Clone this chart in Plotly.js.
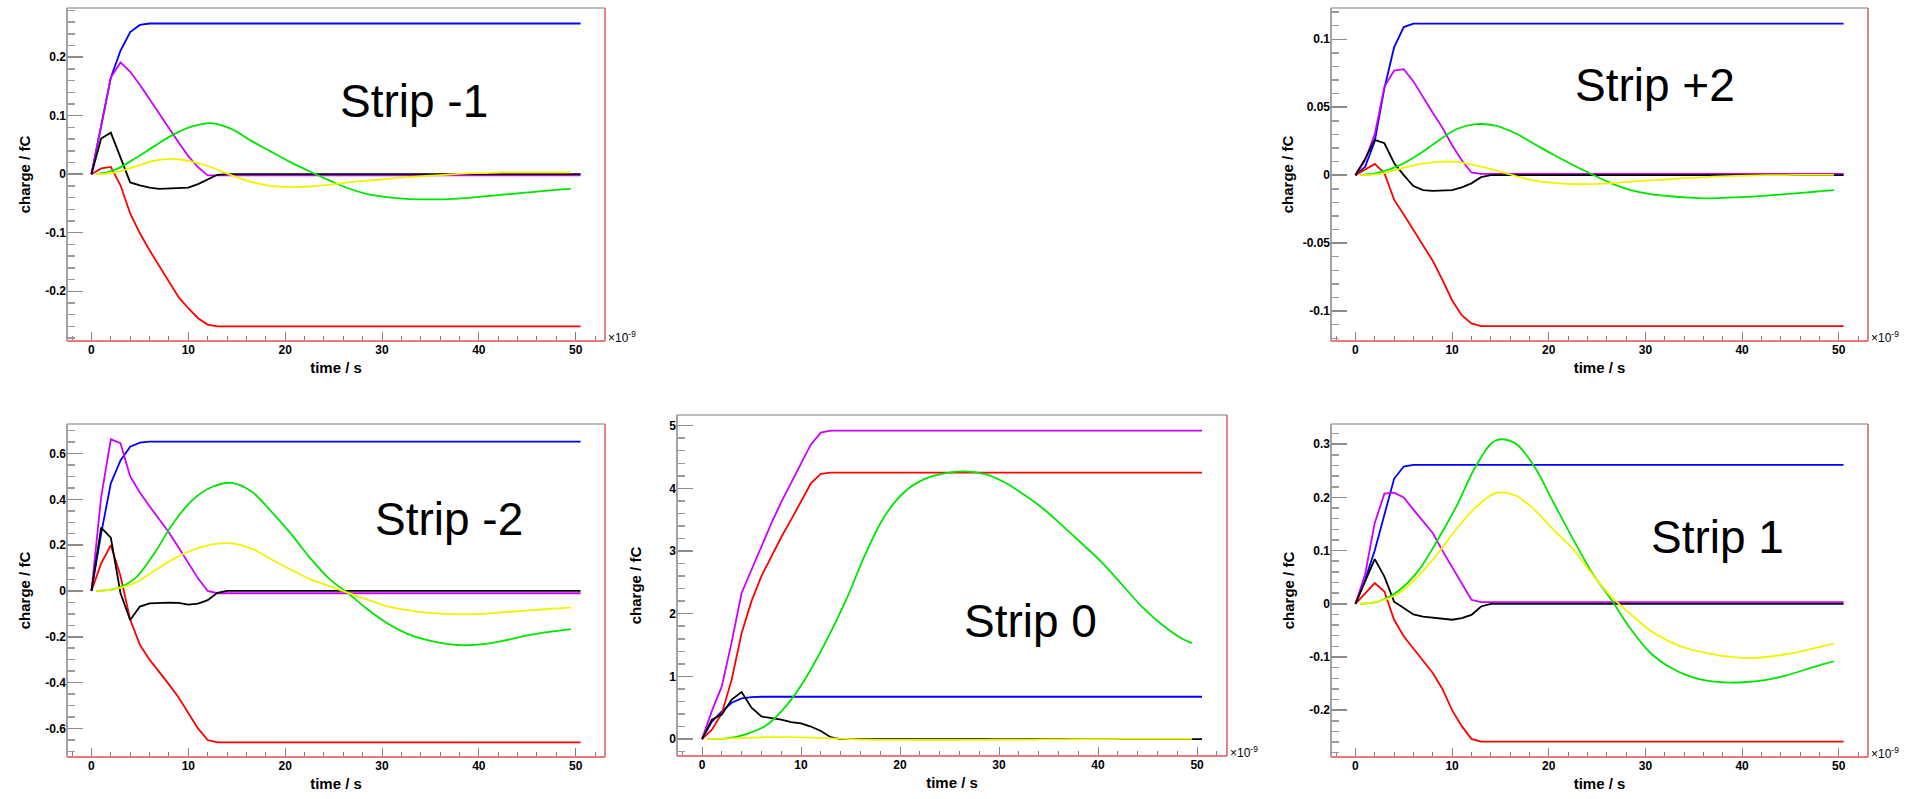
<!DOCTYPE html>
<html>
<head>
<meta charset="utf-8">
<script src="https://cdn.plot.ly/plotly-3.0.1.min.js"></script>
<style>
  html, body { margin: 0; padding: 0; background: #ffffff; }
  #chart { width: 1905px; height: 799px; }
</style>
</head>
<body>
<div id="chart"></div>
<script>
// ---------- time grids (ns) ----------
// fast components: sampled every ns, flat after the drift ends
const tFast = [0, 1, 2, 3, 4, 5, 6, 7, 8, 9, 10, 11, 12, 13, 14, 50.5];
// slow (shaped) components
const tSlow = [0.5, 2.5, 4.5, 6.5, 8.5, 10.5, 12.5, 14.5, 16.5, 18.5, 20.5, 22.5, 24.5,
               26.5, 28.5, 30.5, 32.5, 34.5, 36.5, 38.5, 40.5, 42.5, 44.5, 46.5, 48.5, 49.5];

// ---------- Strip -1 ----------
const stripM1Blue    = [0, 0.080, 0.165, 0.211, 0.243, 0.255, 0.2575, 0.2575, 0.2575, 0.2575, 0.2575, 0.2575, 0.2575, 0.2575, 0.2575, 0.2575];
const stripM1Magenta = [0, 0.082, 0.165, 0.191, 0.175, 0.153, 0.128, 0.103, 0.078, 0.054, 0.031, 0.012, -0.002, -0.002, -0.002, -0.002];
const stripM1Red     = [0, 0.010, 0.0125, -0.019, -0.067, -0.101, -0.130, -0.157, -0.185, -0.210, -0.229, -0.246, -0.257, -0.260, -0.260, -0.260];
const stripM1Black   = [0, 0.061, 0.071, 0.030, -0.014, -0.019, -0.023, -0.025, -0.024, -0.023, -0.023, -0.017, -0.009, -0.001, 0, 0];
const stripM1Green   = [0, 0.008, 0.027, 0.048, 0.068, 0.082, 0.087, 0.077, 0.057, 0.039, 0.021, 0.005, -0.010,
                        -0.024, -0.034, -0.039, -0.042, -0.043, -0.043, -0.041, -0.038, -0.035, -0.032, -0.029, -0.026, -0.025];
const stripM1Yellow  = [0, 0.003, 0.013, 0.023, 0.026, 0.021, 0.011, -0.002, -0.013, -0.020, -0.022, -0.021, -0.018,
                        -0.014, -0.011, -0.008, -0.005, -0.003, -0.001, 0.001, 0.002, 0.003, 0.003, 0.003, 0.003, 0.003];

// ---------- Strip +2 ----------
const stripP2Blue    = [0, 0.006, 0.025, 0.064, 0.094, 0.109, 0.1115, 0.1115, 0.1115, 0.1115, 0.1115, 0.1115, 0.1115, 0.1115, 0.1115, 0.1115];
const stripP2Magenta = [0, 0.011, 0.030, 0.065, 0.077, 0.078, 0.069, 0.057, 0.046, 0.035, 0.022, 0.011, 0.002, 0.001, 0.001, 0.001];
const stripP2Red     = [0, 0.004, 0.0083, 0.0015, -0.018, -0.029, -0.040, -0.051, -0.063, -0.077, -0.092, -0.103, -0.109, -0.111, -0.111, -0.111];
const stripP2Black   = [0, 0.012, 0.026, 0.0235, 0.009, 0.000, -0.008, -0.011, -0.0115, -0.0115, -0.011, -0.009, -0.006, -0.0015, 0, 0];
const stripP2Green   = [0, 0.002, 0.007, 0.015, 0.025, 0.034, 0.0375, 0.0365, 0.031, 0.023, 0.015, 0.0075, 0.0005,
                        -0.006, -0.011, -0.014, -0.0155, -0.0165, -0.017, -0.0165, -0.016, -0.015, -0.014, -0.0128, -0.0116, -0.011];
const stripP2Yellow  = [0, 0.001, 0.0045, 0.008, 0.0098, 0.0098, 0.007, 0.0035, -0.0005, -0.004, -0.0057, -0.0065, -0.0066,
                        -0.0058, -0.0048, -0.0038, -0.003, -0.002, -0.0013, -0.0007, -0.0003, 0, 0.0001, 0.0002, 0.0002, 0.0002];

// ---------- Strip -2 ----------
const stripM2Blue    = [0, 0.25, 0.47, 0.57, 0.63, 0.648, 0.652, 0.652, 0.652, 0.652, 0.652, 0.652, 0.652, 0.652, 0.652, 0.652];
const stripM2Magenta = [0, 0.41, 0.662, 0.645, 0.50, 0.43, 0.37, 0.315, 0.255, 0.19, 0.125, 0.055, 0.0, -0.01, -0.01, -0.01];
const stripM2Red     = [0, 0.12, 0.20, 0.065, -0.125, -0.235, -0.30, -0.352, -0.408, -0.465, -0.53, -0.60, -0.651, -0.661, -0.661, -0.661];
const stripM2Black   = [0, 0.277, 0.233, -0.01, -0.127, -0.068, -0.054, -0.052, -0.051, -0.052, -0.06, -0.055, -0.04, -0.008, 0, 0];
const stripM2Green   = [0, 0.01, 0.055, 0.165, 0.30, 0.40, 0.455, 0.472, 0.435, 0.35, 0.255, 0.148, 0.055,
                        -0.01, -0.08, -0.14, -0.185, -0.213, -0.23, -0.237, -0.232, -0.218, -0.198, -0.183, -0.172, -0.167];
const stripM2Yellow  = [0, 0.009, 0.035, 0.088, 0.14, 0.18, 0.203, 0.208, 0.185, 0.14, 0.095, 0.053, 0.022,
                        -0.008, -0.038, -0.066, -0.083, -0.095, -0.10, -0.102, -0.10, -0.093, -0.087, -0.081, -0.075, -0.073];

// ---------- Strip 0 ----------
const strip0Blue    = [0, 0.28, 0.44, 0.58, 0.65, 0.67, 0.675, 0.675, 0.675, 0.675, 0.675, 0.675, 0.675, 0.675, 0.675, 0.675];
const strip0Magenta = [0, 0.45, 0.84, 1.55, 2.33, 2.70, 3.10, 3.44, 3.78, 4.08, 4.40, 4.70, 4.89, 4.92, 4.92, 4.92];
const strip0Red     = [0, 0.15, 0.41, 0.95, 1.69, 2.20, 2.60, 2.91, 3.22, 3.50, 3.80, 4.08, 4.23, 4.25, 4.25, 4.25];
const strip0Black   = [0, 0.31, 0.39, 0.63, 0.75, 0.50, 0.36, 0.34, 0.31, 0.27, 0.25, 0.20, 0.13, 0.03, 0, 0];
const strip0Green   = [0, 0.01, 0.08, 0.22, 0.53, 0.98, 1.55, 2.20, 2.95, 3.57, 3.95, 4.15, 4.24,
                       4.27, 4.23, 4.10, 3.90, 3.67, 3.39, 3.10, 2.80, 2.45, 2.10, 1.82, 1.60, 1.53];
const strip0Yellow  = [0, 0.008, 0.02, 0.03, 0.032, 0.028, 0.015, 0.003, -0.008, -0.012, -0.014, -0.015, -0.015,
                       -0.014, -0.012, -0.01, -0.008, -0.006, -0.004, -0.002, 0, 0.002, 0.003, 0.004, 0.004, 0.004];

// ---------- Strip 1 ----------
const strip1Blue    = [0, 0.045, 0.10, 0.17, 0.235, 0.258, 0.261, 0.261, 0.261, 0.261, 0.261, 0.261, 0.261, 0.261, 0.261, 0.261];
const strip1Magenta = [0, 0.055, 0.152, 0.207, 0.209, 0.200, 0.177, 0.155, 0.133, 0.100, 0.070, 0.039, 0.0075, 0.003, 0.003, 0.003];
const strip1Red     = [0, 0.020, 0.039, 0.023, -0.030, -0.061, -0.085, -0.107, -0.130, -0.160, -0.200, -0.230, -0.254, -0.259, -0.259, -0.259];
const strip1Black   = [0, 0.042, 0.084, 0.051, 0.004, -0.008, -0.020, -0.024, -0.026, -0.027, -0.030, -0.027, -0.021, -0.005, 0, 0];
const strip1Green   = [0, 0.005, 0.025, 0.062, 0.12, 0.185, 0.26, 0.307, 0.302, 0.258, 0.19, 0.122, 0.058,
                       0.007, -0.048, -0.092, -0.119, -0.136, -0.145, -0.148, -0.147, -0.143, -0.135, -0.124, -0.113, -0.108];
const strip1Yellow  = [0, 0.005, 0.02, 0.052, 0.094, 0.142, 0.182, 0.208, 0.204, 0.177, 0.139, 0.103, 0.056,
                       0.013, -0.02, -0.05, -0.071, -0.085, -0.093, -0.099, -0.102, -0.10, -0.095, -0.088, -0.079, -0.075];

// ---------- tick labels ----------
const xTicks      = [0, 10, 20, 30, 40, 50];
const yTicksM1    = [-0.2, -0.1, 0, 0.1, 0.2];
const yTicksP2    = [-0.1, -0.05, 0, 0.05, 0.1];
const yTicksM2    = [-0.6, -0.4, -0.2, 0, 0.2, 0.4, 0.6];
const yTicks0     = [0, 1, 2, 3, 4, 5];
const yTicks1     = [-0.2, -0.1, 0, 0.1, 0.2, 0.3];

// ---------- drawing ----------
const W = 1905, H = 799;
const px = x => x / W;
const py = y => 1 - y / H;
const bold = s => '<b>' + s + '</b>';

const lineColors = {
  blue: '#0000ff', magenta: '#cc00ff', red: '#ff0000',
  black: '#000000', green: '#00e600', yellow: '#f2f200'
};
const FONT = 'Liberation Sans, Arial, Helvetica, sans-serif';
const X_RANGE = [-2.525, 53.025];

// pad geometry in pixels (frame box), axis ranges, minor steps and label spots
const panels = [
  { label: 'Strip -1', box: { l: 67, r: 605, t: 8, b: 341 }, yRange: [-0.285, 0.284],
    yTicks: yTicksM1, yMinor: 0.02, labelAt: [414, 101], exponent: true, yStandoff: 11,
    fast: [stripM1Blue, stripM1Magenta, stripM1Red, stripM1Black], slow: [stripM1Green, stripM1Yellow] },
  { label: 'Strip +2', box: { l: 1331, r: 1868, t: 8, b: 341 }, yRange: [-0.122, 0.123],
    yTicks: yTicksP2, yMinor: 0.01, labelAt: [1655, 85], exponent: true, yStandoff: 5,
    fast: [stripP2Blue, stripP2Magenta, stripP2Red, stripP2Black], slow: [stripP2Green, stripP2Yellow] },
  { label: 'Strip -2', box: { l: 67, r: 605, t: 424, b: 757 }, yRange: [-0.725, 0.729],
    yTicks: yTicksM2, yMinor: 0.05, labelAt: [449, 519], exponent: false, yStandoff: 11,
    fast: [stripM2Blue, stripM2Magenta, stripM2Red, stripM2Black], slow: [stripM2Green, stripM2Yellow] },
  { label: 'Strip 0', box: { l: 677, r: 1227, t: 415, b: 756 }, yRange: [-0.27, 5.17],
    yTicks: yTicks0, yMinor: 0.2, labelAt: [1030, 621], exponent: true, yStandoff: 24,
    fast: [strip0Blue, strip0Magenta, strip0Red, strip0Black], slow: [strip0Green, strip0Yellow] },
  { label: 'Strip 1', box: { l: 1331, r: 1868, t: 424, b: 757 }, yRange: [-0.288, 0.338],
    yTicks: yTicks1, yMinor: 0.02, labelAt: [1717, 537], exponent: true, yStandoff: 11,
    fast: [strip1Blue, strip1Magenta, strip1Red, strip1Black], slow: [strip1Green, strip1Yellow] }
];

const fastColors = ['blue', 'magenta', 'red', 'black'];
const slowColors = ['green', 'yellow'];

const traces = [];
const layout = {
  width: W, height: H,
  margin: { l: 0, r: 0, t: 0, b: 0 },
  paper_bgcolor: '#ffffff', plot_bgcolor: '#ffffff',
  showlegend: false,
  annotations: [], shapes: []
};

const tickFont = { family: FONT, size: 12, color: '#000000' };
const titleFont = { family: FONT, size: 15, color: '#000000' };

panels.forEach((p, i) => {
  const n = i === 0 ? '' : String(i + 1);
  const xa = 'x' + n, ya = 'y' + n;

  p.fast.forEach((vals, k) => {
    traces.push({ x: tFast, y: vals, xaxis: xa, yaxis: ya, type: 'scatter', mode: 'lines',
      line: { color: lineColors[fastColors[k]], width: 1.8 }, hoverinfo: 'skip' });
  });
  p.slow.forEach((vals, k) => {
    traces.push({ x: tSlow, y: vals, xaxis: xa, yaxis: ya, type: 'scatter', mode: 'lines',
      line: { color: lineColors[slowColors[k]], width: 1.8, shape: 'spline', smoothing: 1 }, hoverinfo: 'skip' });
  });

  const b = p.box;
  layout['xaxis' + n] = {
    domain: [px(b.l), px(b.r)], range: X_RANGE, anchor: ya, fixedrange: true,
    tickmode: 'array', tickvals: xTicks, ticktext: xTicks.map(v => bold(String(v))),
    ticks: 'inside', ticklen: 9, tickwidth: 1, tickcolor: '#808080',
    minor: { tickmode: 'linear', tick0: 0, dtick: 2, ticks: 'inside', ticklen: 5, tickwidth: 1, tickcolor: '#808080', showgrid: false },
    showgrid: false, zeroline: false, showline: false,
    tickfont: tickFont,
    title: { text: bold('time / s'), font: titleFont, standoff: 6 }
  };
  layout['yaxis' + n] = {
    domain: [py(b.b), py(b.t)], range: p.yRange, anchor: xa, fixedrange: true,
    tickmode: 'array', tickvals: p.yTicks, ticktext: p.yTicks.map(v => bold(String(v))),
    ticks: 'inside', ticklen: 16, tickwidth: 1.5, tickcolor: '#8c8c8c',
    minor: { tickmode: 'linear', tick0: 0, dtick: p.yMinor, ticks: 'inside', ticklen: 8, tickwidth: 1.5, tickcolor: '#9a9a9a', showgrid: false },
    showgrid: false, zeroline: false, showline: false,
    tickfont: tickFont,
    title: { text: bold('charge / fC'), font: titleFont, standoff: p.yStandoff }
  };

  // pad frame: grey top/left, red right/bottom
  const edge = (x0, y0, x1, y1, color, width) => layout.shapes.push({
    type: 'line', xref: 'paper', yref: 'paper',
    x0: px(x0), y0: py(y0), x1: px(x1), y1: py(y1),
    line: { color: color, width: width }
  });
  edge(b.l, b.t, b.r, b.t, '#7f7f7f', 1.2);
  edge(b.l, b.t, b.l, b.b, '#9a9a9a', 1.8);
  edge(b.r, b.t, b.r, b.b, '#c83246', 1.2);
  edge(b.l, b.b, b.r, b.b, '#ee7777', 2);

  // strip name
  layout.annotations.push({
    xref: 'paper', yref: 'paper', x: px(p.labelAt[0]), y: py(p.labelAt[1]),
    xanchor: 'center', yanchor: 'middle', showarrow: false,
    text: p.label, font: { family: FONT, size: 46, color: '#000000' }
  });

  // axis exponent
  if (p.exponent) {
    layout.annotations.push({
      xref: 'paper', yref: 'paper', x: px(b.r + 1), y: py(b.b - 4),
      xanchor: 'left', yanchor: 'middle', showarrow: false,
      text: '\u00d710<sup>-9</sup>', font: { family: FONT, size: 12, color: '#000000' }
    });
  }
});

Plotly.newPlot('chart', traces, layout, { displayModeBar: false, staticPlot: true });
</script>
</body>
</html>
